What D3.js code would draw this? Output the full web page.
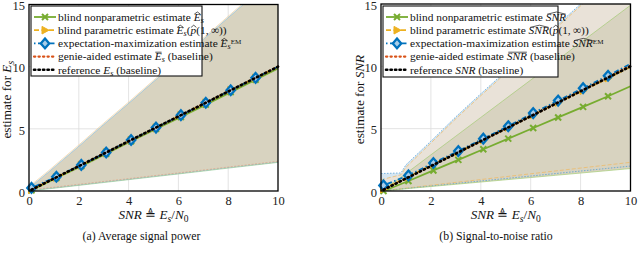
<!DOCTYPE html>
<html><head><meta charset="utf-8">
<script src="https://cdn.jsdelivr.net/npm/d3@7"></script>
<style>body{margin:0;background:#fff}</style>
</head><body><svg id="c" width="640" height="255"></svg>
<script>
// ---------- data ----------
const xLine = [0.1,1.1,2.1,3.1,4.1,5.1,6.1,7.1,8.1,9.1,10];
const esNonpar = [0.05,1.05,2.0,3.0,4.0,5.0,5.95,6.95,7.95,8.95,9.85];
const esPar    = [0.1,1.1,2.1,3.1,4.1,5.1,6.1,7.1,8.1,9.1,10.0];
const esEM     = [0.25,1.15,2.1,3.1,4.1,5.1,6.1,7.1,8.1,9.1,10.0];
const esGenie  = [0.1,1.1,2.1,3.1,4.1,5.1,6.1,7.1,8.1,9.1,10.0];
const esRef    = [0.1,1.1,2.1,3.1,4.1,5.1,6.1,7.1,8.1,9.1,10.0];

const snrNonpar = [0.0,0.8,1.65,2.5,3.35,4.2,5.05,5.9,6.75,7.6,8.4];
const snrPar    = [0.15,1.15,2.15,3.1,4.1,5.1,6.1,7.1,8.05,9.05,9.95];
const snrEM     = [0.45,1.25,2.25,3.2,4.2,5.2,6.25,7.25,8.25,9.25,10.2];
const snrGenie  = [0.1,1.1,2.1,3.1,4.1,5.1,6.1,7.1,8.1,9.1,10.05];
const snrRef    = [0.1,1.1,2.1,3.1,4.1,5.1,6.1,7.1,8.1,9.1,10.0];

const xBand = [0,0.8,1,2,3,4,5,6,7,8,9,10];
const esUpper = [0.25,1.55,1.9,3.6,5.35,7.05,8.8,10.5,12.2,13.95,15.7,17.4];
const esLower = [0,0.18,0.22,0.45,0.68,0.91,1.14,1.37,1.6,1.84,2.07,2.3];
const snrUpperEM  = [1.4,1.45,2.1,4.0,5.95,7.8,9.6,11.4,13.2,15.0,16.8,18.6];
const snrUpperPar = [0.9,1.3,1.9,3.85,5.8,7.65,9.45,11.25,13.05,14.85,16.65,18.45];
const snrUpperNon = [0.0,1.1,1.4,2.9,4.4,5.9,7.4,8.9,10.4,11.9,13.4,14.9];
const snrLowerPar = [0,0.18,0.23,0.46,0.69,0.92,1.15,1.38,1.61,1.84,2.07,2.3];
const snrLowerEM  = [0,0.16,0.2,0.4,0.6,0.8,1.0,1.2,1.4,1.6,1.8,2.0];
const snrLowerNon = [0,0.14,0.18,0.36,0.54,0.72,0.9,1.08,1.26,1.44,1.62,1.8];

const xTicks = [0,2,4,6,8,10];
const yTicks = [0,5,10,15];

const C = {green:"#77AC30", orange:"#EDB120", blue:"#0072BD", red:"#D95319", black:"#000"};
const FONT = "'Liberation Serif','DejaVu Serif',serif";

const svg = d3.select("#c");

function richText(g, x, y, parts, opts={}) {
  const size = opts.size||10.5;
  const t = g.append("text").attr("x", x).attr("y", y)
    .attr("font-family", FONT).attr("font-size", size).attr("fill","#111");
  if (opts.anchor) t.attr("text-anchor", opts.anchor);
  if (opts.rotate) t.attr("transform", `rotate(-90,${x},${y})`);
  const accents = [];
  parts.forEach(p => {
    if (typeof p === "string") { t.append("tspan").text(p); return; }
    const ts = t.append("tspan").text(p.t);
    if (p.i) ts.attr("font-style","italic");
    if (p.sub) ts.attr("baseline-shift","-25%").attr("font-size",size*0.72);
    if (p.sup) ts.attr("baseline-shift","38%").attr("font-size",size*0.62);
    if (p.acc) accents.push([ts, p.acc]);
  });
  accents.forEach(([ts, kind]) => {
    const bb = ts.node().getBBox();
    const x0 = bb.x + 1.5, x1 = bb.x + bb.width - 0.2, yy = bb.y + 1.8;
    if (kind === "hat") {
      g.append("path").attr("d", `M${x0},${yy+1.6}L${(x0+x1)/2},${yy-0.6}L${x1},${yy+1.6}`)
        .attr("fill","none").attr("stroke","#111").attr("stroke-width",0.7);
    } else {
      g.append("path").attr("d", `M${x0},${yy}L${x1},${yy}`)
        .attr("stroke","#111").attr("stroke-width",0.7);
    }
  });
  return t;
}

function marker(g, kind, x, y, col) {
  if (kind === "x") {
    g.append("path").attr("d",`M${x-3},${y-3}L${x+3},${y+3}M${x-3},${y+3}L${x+3},${y-3}`)
      .attr("stroke",col).attr("stroke-width",2);
  } else if (kind === "tri") {
    g.append("path").attr("d",`M${x+4},${y}L${x-3},${y-3.8}L${x-3},${y+3.8}Z`)
      .attr("fill",col).attr("stroke",col).attr("stroke-width",1);
  } else if (kind === "dia") {
    g.append("path").attr("d",`M${x},${y-4.8}L${x+4.2},${y}L${x},${y+4.8}L${x-4.2},${y}Z`)
      .attr("fill","#a8cde8").attr("stroke",col).attr("stroke-width",2.3);
  }
}

const styles = {
  nonpar: {col:C.green, dash:null, w:1.8, mk:"x"},
  par:    {col:C.orange, dash:"5,2.5", w:1.8, mk:"tri"},
  em:     {col:C.blue, dash:"1.5,2.5,5,2.5", w:1.8, mk:"dia"},
  genie:  {col:C.red, dash:"1.3,3.2", w:2.2, mk:null},
  ref:    {col:C.black, dash:"1.3,3.2", w:2.6, mk:null}
};

function panel(cfg) {
  const {x0, x1, yTop, yBot, id} = cfg;
  const x = d3.scaleLinear().domain([0,10]).range([x0,x1]);
  const y = d3.scaleLinear().domain([0,15]).range([yBot,yTop]);
  const g = svg.append("g");
  g.append("clipPath").attr("id",id).append("rect")
    .attr("x",x0).attr("y",yTop).attr("width",x1-x0).attr("height",yBot-yTop);
  const pg = g.append("g").attr("clip-path",`url(#${id})`);
  // grid
  pg.selectAll(".gx").data(xTicks.slice(1,-1)).enter().append("line")
    .attr("x1",d=>x(d)).attr("x2",d=>x(d)).attr("y1",yTop).attr("y2",yBot)
    .attr("stroke","#dcdcdc").attr("stroke-width",0.8);
  pg.selectAll(".gy").data(yTicks.slice(1,-1)).enter().append("line")
    .attr("y1",d=>y(d)).attr("y2",d=>y(d)).attr("x1",x0).attr("x2",x1)
    .attr("stroke","#dcdcdc").attr("stroke-width",0.8);
  // bands
  cfg.bands.forEach(b => {
    const area = d3.area().x((d,i)=>x(xBand[i])).y0((d,i)=>y(b.lo[i])).y1((d,i)=>y(b.hi[i]));
    pg.append("path").datum(b.hi).attr("d",area).attr("fill",b.fill).attr("fill-opacity",b.op||1);
  });
  cfg.edges.forEach(e => {
    const ln = d3.line().x((d,i)=>x(xBand[i])).y(d=>y(d));
    pg.append("path").datum(e.v).attr("d",ln).attr("fill","none")
      .attr("stroke",e.col).attr("stroke-width",e.w||0.9).attr("stroke-opacity",e.op||0.6)
      .attr("stroke-dasharray",e.dash||null);
  });
  // lines
  cfg.series.forEach(s => {
    const st = styles[s.key];
    const ln = d3.line().x((d,i)=>x(xLine[i])).y(d=>y(d));
    g.append("path").datum(s.v).attr("d",ln).attr("fill","none")
      .attr("stroke",st.col).attr("stroke-width",st.w).attr("stroke-dasharray",st.dash)
      .attr("stroke-linecap", st.mk ? "butt" : "round");
    if (st.mk) s.v.slice(0,10).forEach((d,i)=>marker(g, st.mk, x(xLine[i]), y(d), st.col));
  });
  // frame
  g.append("rect").attr("x",x0).attr("y",yTop).attr("width",x1-x0).attr("height",yBot-yTop)
    .attr("fill","none").attr("stroke","#000").attr("stroke-width",1.3);
  // axes ticks
  const ax = g.append("g").attr("transform",`translate(0,${yBot})`)
    .call(d3.axisBottom(x).tickValues(xTicks).tickSize(0).tickPadding(5));
  const ay = g.append("g").attr("transform",`translate(${x0},0)`)
    .call(d3.axisLeft(y).tickValues(yTicks).tickSize(0).tickPadding(4));
  [ax,ay].forEach(a=>{a.select(".domain").remove();
    a.attr("font-family",FONT);
    a.selectAll("text").attr("font-family",FONT).attr("font-size",12.5).attr("fill","#222");});
  ay.selectAll("text").attr("dy","0.42em");
  // legend
  const L = cfg.legend;
  g.append("rect").attr("x",L.x).attr("y",L.y).attr("width",L.w).attr("height",L.h)
    .attr("fill","#fff").attr("stroke","#111").attr("stroke-width",1.1);
  L.items.forEach((it,i) => {
    const st = styles[it.key];
    const yy = L.y + 11 + i*13.2;
    g.append("line").attr("x1",L.x+3).attr("x2",L.x+25).attr("y1",yy).attr("y2",yy)
      .attr("stroke",st.col).attr("stroke-width",st.w).attr("stroke-dasharray",st.dash)
      .attr("stroke-linecap", st.mk ? "butt":"round");
    if (st.mk) marker(g, st.mk, L.x+14, yy, st.col);
    richText(g, L.x+27, yy+3.8, it.parts, {size:11.4});
  });
  // axis labels
  richText(g, (x0+x1)/2, 219, cfg.xlab, {size:13.2, anchor:"middle"});
  richText(g, cfg.ylabX, (yTop+yBot)/2 + 2, cfg.ylab, {size:13.2, anchor:"middle", rotate:true});
  richText(g, cfg.capX, 240, cfg.caption, {size:11.8, anchor:"middle"});
}

const xlab = [{t:"SNR",i:1}," ≜ ",{t:"E",i:1},{t:"s",i:1,sub:1},{t:"/",i:0},{t:"N",i:1},{t:"0",sub:1}];

panel({
  id:"clipA", x0:29, x1:278, yTop:4.5, yBot:191, ylabX:11, capX:141.5,
  bands:[{lo:esLower, hi:esUpper, fill:"#d8d3c0"}],
  edges:[
    {v:esUpper, col:"#6fb3e0"}, {v:esUpper.map(d=>d+0.1), col:"#f2c27a"},
    {v:esLower, col:"#7fc17f"}, {v:esLower.map(d=>d+0.05), col:"#6fb3e0", dash:"2,1.5"},
    {v:esLower.map(d=>d+0.09), col:"#f2a070", dash:"2,1.5"}
  ],
  series:[
    {key:"nonpar", v:esNonpar},{key:"par", v:esPar},{key:"em", v:esEM},
    {key:"genie", v:esGenie},{key:"ref", v:esRef}
  ],
  legend:{x:31,y:6,w:171,h:70, items:[
    {key:"nonpar", parts:["blind nonparametric estimate ",{t:"E",i:1,acc:"hat"},{t:"s",i:1,sub:1}]},
    {key:"par", parts:["blind parametric estimate ",{t:"E",i:1,acc:"hat"},{t:"s",i:1,sub:1},"(",{t:"p",i:1,acc:"hat"},"(1,\u2009∞))"]},
    {key:"em", parts:["expectation-maximization estimate ",{t:"E",i:1,acc:"hat"},{t:"s",i:1,sub:1},{t:"EM",sup:1}]},
    {key:"genie", parts:["genie-aided estimate ",{t:"E",i:1,acc:"bar"},{t:"s",i:1,sub:1}," (baseline)"]},
    {key:"ref", parts:["reference ",{t:"E",i:1},{t:"s",i:1,sub:1}," (baseline)"]}
  ]},
  xlab, ylab:["estimate for ",{t:"E",i:1},{t:"s",i:1,sub:1}],
  caption:["(a) Average signal power"]
});

panel({
  id:"clipB", x0:381, x1:630.5, yTop:4, yBot:191, ylabX:364, capX:496,
  bands:[
    {lo:snrLowerEM, hi:snrUpperEM, fill:"#d6e6f1"},
    {lo:snrLowerPar, hi:snrUpperPar, fill:"#e9e2d8"},
    {lo:snrLowerNon, hi:snrUpperNon, fill:"#d8d3c0"}
  ],
  edges:[
    {v:snrUpperEM, col:"#4a9ad6", dash:"1.5,1.5", op:0.8},
    {v:snrUpperPar, col:"#f0b860", dash:"4,2", op:0.8},
    {v:snrUpperNon, col:"#a6cc78", op:0.8},
    {v:snrLowerPar, col:"#f0b860", dash:"4,2", op:0.8},
    {v:snrLowerEM, col:"#4a9ad6", dash:"1.5,1.5", op:0.8},
    {v:snrLowerNon, col:"#a6cc78", op:0.8}
  ],
  series:[
    {key:"nonpar", v:snrNonpar},{key:"par", v:snrPar},{key:"em", v:snrEM},
    {key:"genie", v:snrGenie},{key:"ref", v:snrRef}
  ],
  legend:{x:383,y:6,w:175,h:71, items:[
    {key:"nonpar", parts:["blind nonparametric estimate ",{t:"SNR",i:1,acc:"hat"}]},
    {key:"par", parts:["blind parametric estimate ",{t:"SNR",i:1,acc:"hat"},"(",{t:"p",i:1,acc:"hat"},"(1,\u2009∞))"]},
    {key:"em", parts:["expectation-maximization estimate ",{t:"SNR",i:1,acc:"hat"},{t:"EM",sup:1}]},
    {key:"genie", parts:["genie-aided estimate ",{t:"SNR",i:1,acc:"bar"}," (baseline)"]},
    {key:"ref", parts:["reference ",{t:"SNR",i:1}," (baseline)"]}
  ]},
  xlab, ylab:["estimate for ",{t:"SNR",i:1}],
  caption:["(b) Signal-to-noise ratio"]
});
</script></body></html>
